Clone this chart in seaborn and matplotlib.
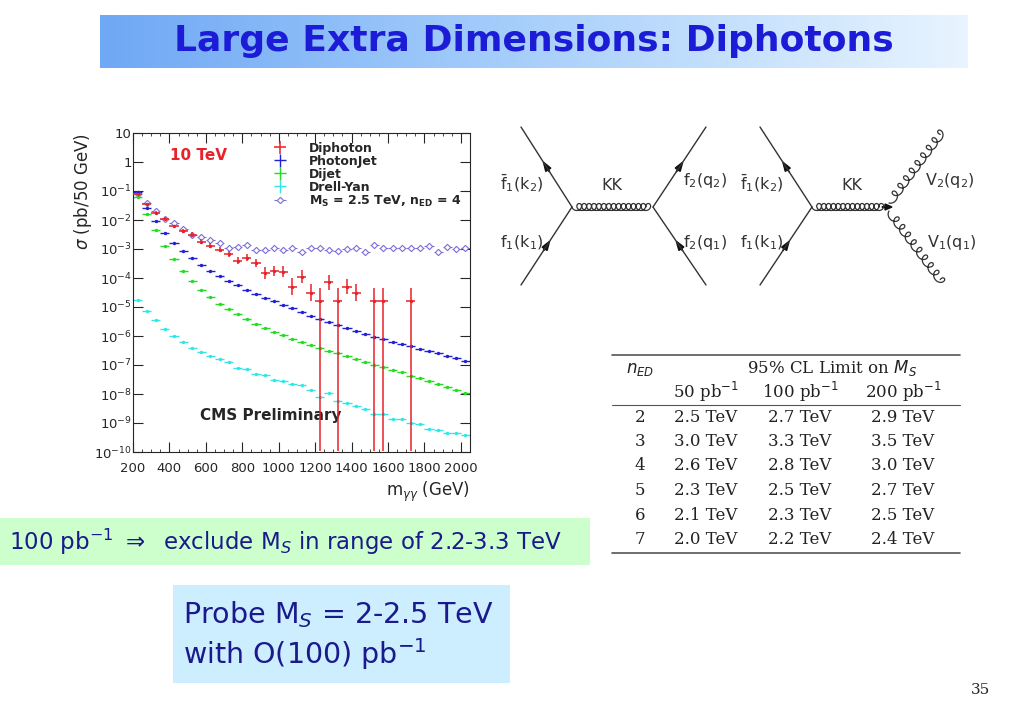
import numpy as np
import matplotlib
matplotlib.use('Agg')
import matplotlib.pyplot as plt
import seaborn as sns
from matplotlib.patches import Rectangle, FancyArrow
from matplotlib.ticker import FixedLocator, FixedFormatter
from matplotlib.colors import LinearSegmentedColormap

sns.set_style('ticks')
plt.rcParams['font.family'] = ['DejaVu Sans']

# ---- data (log10 of sigma in pb/50 GeV) ----
mass = np.arange(225, 2026, 50)
photonjet = [-1.05, -1.6, -2.05, -2.45, -2.8, -3.08, -3.32, -3.55, -3.75, -3.93, -4.1, -4.25, -4.4,
             -4.55, -4.68, -4.8, -4.93, -5.05, -5.17, -5.3, -5.4, -5.5, -5.62, -5.72, -5.82, -5.92,
             -6.02, -6.1, -6.2, -6.28, -6.36, -6.44, -6.52, -6.6, -6.68, -6.76, -6.85]
dijet = [-1.2, -1.8, -2.35, -2.9, -3.35, -3.75, -4.1, -4.4, -4.65, -4.88, -5.08, -5.25, -5.42,
         -5.58, -5.72, -5.85, -5.97, -6.1, -6.2, -6.3, -6.42, -6.5, -6.6, -6.7, -6.8, -6.9,
         -7.0, -7.08, -7.16, -7.25, -7.38, -7.45, -7.55, -7.65, -7.75, -7.85, -7.97]
drellyan = [-4.75, -5.15, -5.45, -5.75, -6.0, -6.2, -6.4, -6.55, -6.7, -6.8, -6.9, -7.1, -7.15,
            -7.3, -7.35, -7.5, -7.55, -7.65, -7.7, -7.85, -8.1, -7.95, -8.25, -8.3, -8.4, -8.5,
            -8.7, -8.7, -8.85, -8.85, -9.0, -9.05, -9.2, -9.25, -9.35, -9.35, -9.4]
signal = [-1.1, -1.4, -1.7, -1.95, -2.1, -2.3, -2.5, -2.6, -2.68, -2.8, -2.95, -2.92, -2.87,
          -3.05, -3.05, -2.97, -3.02, -2.98, -3.1, -2.98, -2.98, -3.05, -3.08, -3.0, -2.98, -3.1,
          -2.87, -2.97, -2.98, -2.97, -2.98, -2.97, -2.9, -3.1, -2.93, -3.0, -2.97]
dipho_mass = [225, 275, 325, 375, 425, 475, 525, 575, 625, 675, 725, 775, 825, 875, 925, 975,
              1025, 1075, 1125, 1175, 1225, 1275, 1325, 1375, 1425, 1525, 1575, 1725]
diphoton = [-1.1, -1.45, -1.75, -1.95, -2.22, -2.38, -2.5, -2.75, -2.88, -3.02, -3.18, -3.4, -3.3,
            -3.48, -3.83, -3.75, -3.78, -4.3, -3.95, -4.5, -4.8, -4.15, -4.8, -4.3, -4.5, -4.8,
            -4.8, -4.8]
dipho_err = [0.03, 0.04, 0.05, 0.05, 0.06, 0.07, 0.08, 0.09, 0.1, 0.1, 0.11, 0.13, 0.12,
             0.14, 0.2, 0.18, 0.18, 0.3, 0.22, 0.3, 9, 0.25, 9, 0.25, 0.3, 9, 9, 9]

table_head = ['50 pb$^{-1}$', '100 pb$^{-1}$', '200 pb$^{-1}$']
n_ed = ['2', '3', '4', '5', '6', '7']
lim50 = ['2.5 TeV', '3.0 TeV', '2.6 TeV', '2.3 TeV', '2.1 TeV', '2.0 TeV']
lim100 = ['2.7 TeV', '3.3 TeV', '2.8 TeV', '2.5 TeV', '2.3 TeV', '2.2 TeV']
lim200 = ['2.9 TeV', '3.5 TeV', '3.0 TeV', '2.7 TeV', '2.5 TeV', '2.4 TeV']

W, H = 1023, 708
fig = plt.figure(figsize=(W / 100, H / 100), dpi=100)


def box(x0, y0, x1, y1):
    return [x0 / W, 1 - y1 / H, (x1 - x0) / W, (y1 - y0) / H]


# ---- title bar ----
tax = fig.add_axes(box(100, 15, 968, 68))
grad = np.linspace(0, 1, 256)[None, :]
cm = LinearSegmentedColormap.from_list('t', ['#6fa8f5', '#a9d0fb', '#e8f4ff'])
tax.imshow(grad, aspect='auto', cmap=cm, extent=[0, 1, 0, 1])
tax.set_axis_off()
tax.text(0.5, 0.5, 'Large Extra Dimensions: Diphotons', ha='center', va='center',
         fontsize=26, fontweight='bold', color='#1c1cd6')

# ---- main plot ----
ax = fig.add_axes(box(133, 133, 470, 452))


def pw(v):
    return 10 ** np.asarray(v, dtype=float)


series = [(mass, photonjet, '#2020d8', 'PhotonJet'), (mass, dijet, '#22dd22', 'Dijet'),
          (mass, drellyan, '#33e6e6', 'Drell-Yan')]
handles = {}
for xs, ys, col, lab in series:
    y = pw(ys)
    h = ax.errorbar(xs, y, xerr=25, yerr=[y * 0.06, y * 0.06], fmt='none', ecolor=col, lw=1)
    sns.scatterplot(x=xs, y=y, ax=ax, color=col, s=6, edgecolor=col, linewidth=0, zorder=3)
    handles[lab] = h

yd = pw(diphoton)
err = np.asarray(dipho_err)
lo = np.where(err > 5, yd - 1.1e-10, yd - yd * 10 ** -err)
hi = np.where(err > 5, yd * 10 ** 0.28, yd * 10 ** err - yd)
handles['Diphoton'] = ax.errorbar(dipho_mass, yd, xerr=25, yerr=[lo, hi], fmt='none',
                                  ecolor='#e8222a', lw=1.1, zorder=4)
sns.scatterplot(x=dipho_mass, y=yd, ax=ax, color='#e8222a', s=6, linewidth=0, zorder=5)

ys = pw(signal)
handles['sig'] = ax.errorbar(mass, ys, xerr=25, fmt='D', ms=3.2, mfc='white', mec='#7b6fd8',
                             ecolor='#7b6fd8', lw=0.8, mew=0.8)

ax.set_yscale('log')
ax.set_xlim(200, 2050)
ax.set_ylim(1e-10, 10)
ax.set_xticks(range(200, 2001, 200))
ax.xaxis.set_minor_locator(FixedLocator(range(200, 2051, 50)))
ticks = [10.0 ** k for k in range(-10, 2)]
labs = ['$10^{%d}$' % k for k in range(-10, 0)] + ['1', '10']
ax.yaxis.set_major_locator(FixedLocator(ticks))
ax.yaxis.set_major_formatter(FixedFormatter(labs))
ax.tick_params(which='both', direction='in', top=True, right=True, labelsize=9.5)
ax.tick_params(which='major', length=7)
ax.tick_params(axis='y', pad=1)
ax.tick_params(axis='x', pad=7)
ax.set_xlabel(r'm$_{\gamma\gamma}$ (GeV)', fontsize=12, loc='right')
ax.set_ylabel(r'$\sigma$ (pb/50 GeV)', fontsize=12, loc='top', labelpad=0)
ax.text(0.11, 0.915, '10 TeV', transform=ax.transAxes, color='#e8222a', fontsize=11,
        fontweight='bold')
ax.text(0.2, 0.10, 'CMS Preliminary', transform=ax.transAxes, fontsize=11, fontweight='bold')
ax.legend([handles['Diphoton'], handles['PhotonJet'], handles['Dijet'], handles['Drell-Yan'],
           handles['sig']],
          ['Diphoton', 'PhotonJet', 'Dijet', 'Drell-Yan', r'M$_\mathbf{S}$ = 2.5 TeV, n$_\mathbf{ED}$ = 4'],
          loc='upper right', frameon=False, prop={'weight': 'bold', 'size': 9},
          labelspacing=0.0, handlelength=3, borderaxespad=0.3, bbox_to_anchor=(1.0, 1.0))

# ---- Feynman diagrams ----
fax = fig.add_axes(box(490, 110, 975, 310))
fax.set_xlim(490, 975)
fax.set_ylim(310, 110)
fax.set_axis_off()
ink = '#333333'


def arrow_line(x0, y0, x1, y1):
    fax.plot([x0, x1], [y0, y1], color=ink, lw=1)
    mx, my = (x0 + x1) / 2, (y0 + y1) / 2
    dx, dy = (x1 - x0) * 0.06, (y1 - y0) * 0.06
    fax.add_patch(FancyArrow(mx - dx, my - dy, 2 * dx, 2 * dy, width=0.1, head_width=6,
                             head_length=9, length_includes_head=True, color='#111111'))


def coil(x0, y0, x1, y1, n, r):
    t = np.linspace(0, 1, 1200)
    L = np.hypot(x1 - x0, y1 - y0)
    ux, uy = (x1 - x0) / L, (y1 - y0) / L
    px, py = -uy, ux
    ph = 2 * np.pi * n * t
    s = t * (L - 2 * r) + r - r * np.cos(ph)
    d = r * np.sin(ph)
    fax.plot(x0 + ux * s + px * d, y0 + uy * s + py * d, color=ink, lw=0.9)


# diagram 1
arrow_line(572, 207, 521, 127)
arrow_line(521, 285, 572, 207)
arrow_line(653, 207, 706, 127)
arrow_line(706, 285, 653, 207)
coil(572, 207, 653, 207, 15, 3.5)
# diagram 2
arrow_line(812, 207, 760, 127)
arrow_line(760, 285, 812, 207)
coil(812, 207, 886, 207, 14, 3.5)
coil(889, 203, 945, 128, 9, 4)
coil(889, 211, 945, 286, 9, 4)
fax.add_patch(FancyArrow(882, 207, 10, 0, width=0.1, head_width=6, head_length=7,
                         length_includes_head=True, color='#111111'))

fs = 11.5
for vx in (500, 740):
    fax.text(vx, 183, r'$\bar{\rm f}_1$(k$_2$)', fontsize=fs, color=ink, va='center')
    fax.text(vx, 243, r'f$_1$(k$_1$)', fontsize=fs, color=ink, va='center')
fax.text(612, 186, 'KK', fontsize=fs, ha='center', va='center', color=ink)
fax.text(852, 186, 'KK', fontsize=fs, ha='center', va='center', color=ink)
fax.text(683, 181, r'f$_2$(q$_2$)', fontsize=fs, color=ink, va='center')
fax.text(683, 243, r'f$_2$(q$_1$)', fontsize=fs, color=ink, va='center')
fax.text(925, 181, r'V$_2$(q$_2$)', fontsize=fs, color=ink, va='center')
fax.text(927, 243, r'V$_1$(q$_1$)', fontsize=fs, color=ink, va='center')

# ---- limits table ----
kax = fig.add_axes(box(605, 350, 975, 560))
kax.set_xlim(605, 975)
kax.set_ylim(560, 350)
kax.set_axis_off()
for yy, lw in ((355, 1.2), (405, 0.8), (553, 1.2)):
    kax.plot([612, 960], [yy, yy], color='#555555', lw=lw)
sf = dict(family='DejaVu Serif', fontsize=12, color='#222222', va='center', ha='center')
kax.text(640, 370, r'$n_{ED}$', **sf)
kax.text(832, 368, r'95% CL Limit on $M_S$', **sf)
cols = [706, 800, 903]
for cx, h in zip(cols, table_head):
    kax.text(cx, 392, h, **sf)
for i in range(len(n_ed)):
    yy = 417 + i * 24.5
    kax.text(640, yy, n_ed[i], **sf)
    kax.text(cols[0], yy, lim50[i], **sf)
    kax.text(cols[1], yy, lim100[i], **sf)
    kax.text(cols[2], yy, lim200[i], **sf)

# ---- text boxes ----
gax = fig.add_axes(box(0, 518, 590, 565))
gax.add_patch(Rectangle((0, 0), 1, 1, color='#ccffcc', transform=gax.transAxes))
gax.set_axis_off()
gax.text(0.015, 0.5, r'100 pb$^{-1}$ $\Rightarrow$  exclude M$_S$ in range of 2.2-3.3 TeV',
         va='center', fontsize=16.5, color='#1a1a8c')

bax = fig.add_axes(box(173, 585, 510, 683))
bax.add_patch(Rectangle((0, 0), 1, 1, color='#cceeff', transform=bax.transAxes))
bax.set_axis_off()
bax.text(0.03, 0.7, r'Probe M$_S$ = 2-2.5 TeV', va='center', fontsize=20.5, color='#1a1a8c')
bax.text(0.03, 0.3, r'with O(100) pb$^{-1}$', va='center', fontsize=20.5, color='#1a1a8c')

fig.text(980 / W, 1 - 690 / H, '35', fontsize=11, family='DejaVu Serif', ha='center', va='center')

fig.savefig('out.png', dpi=100)
